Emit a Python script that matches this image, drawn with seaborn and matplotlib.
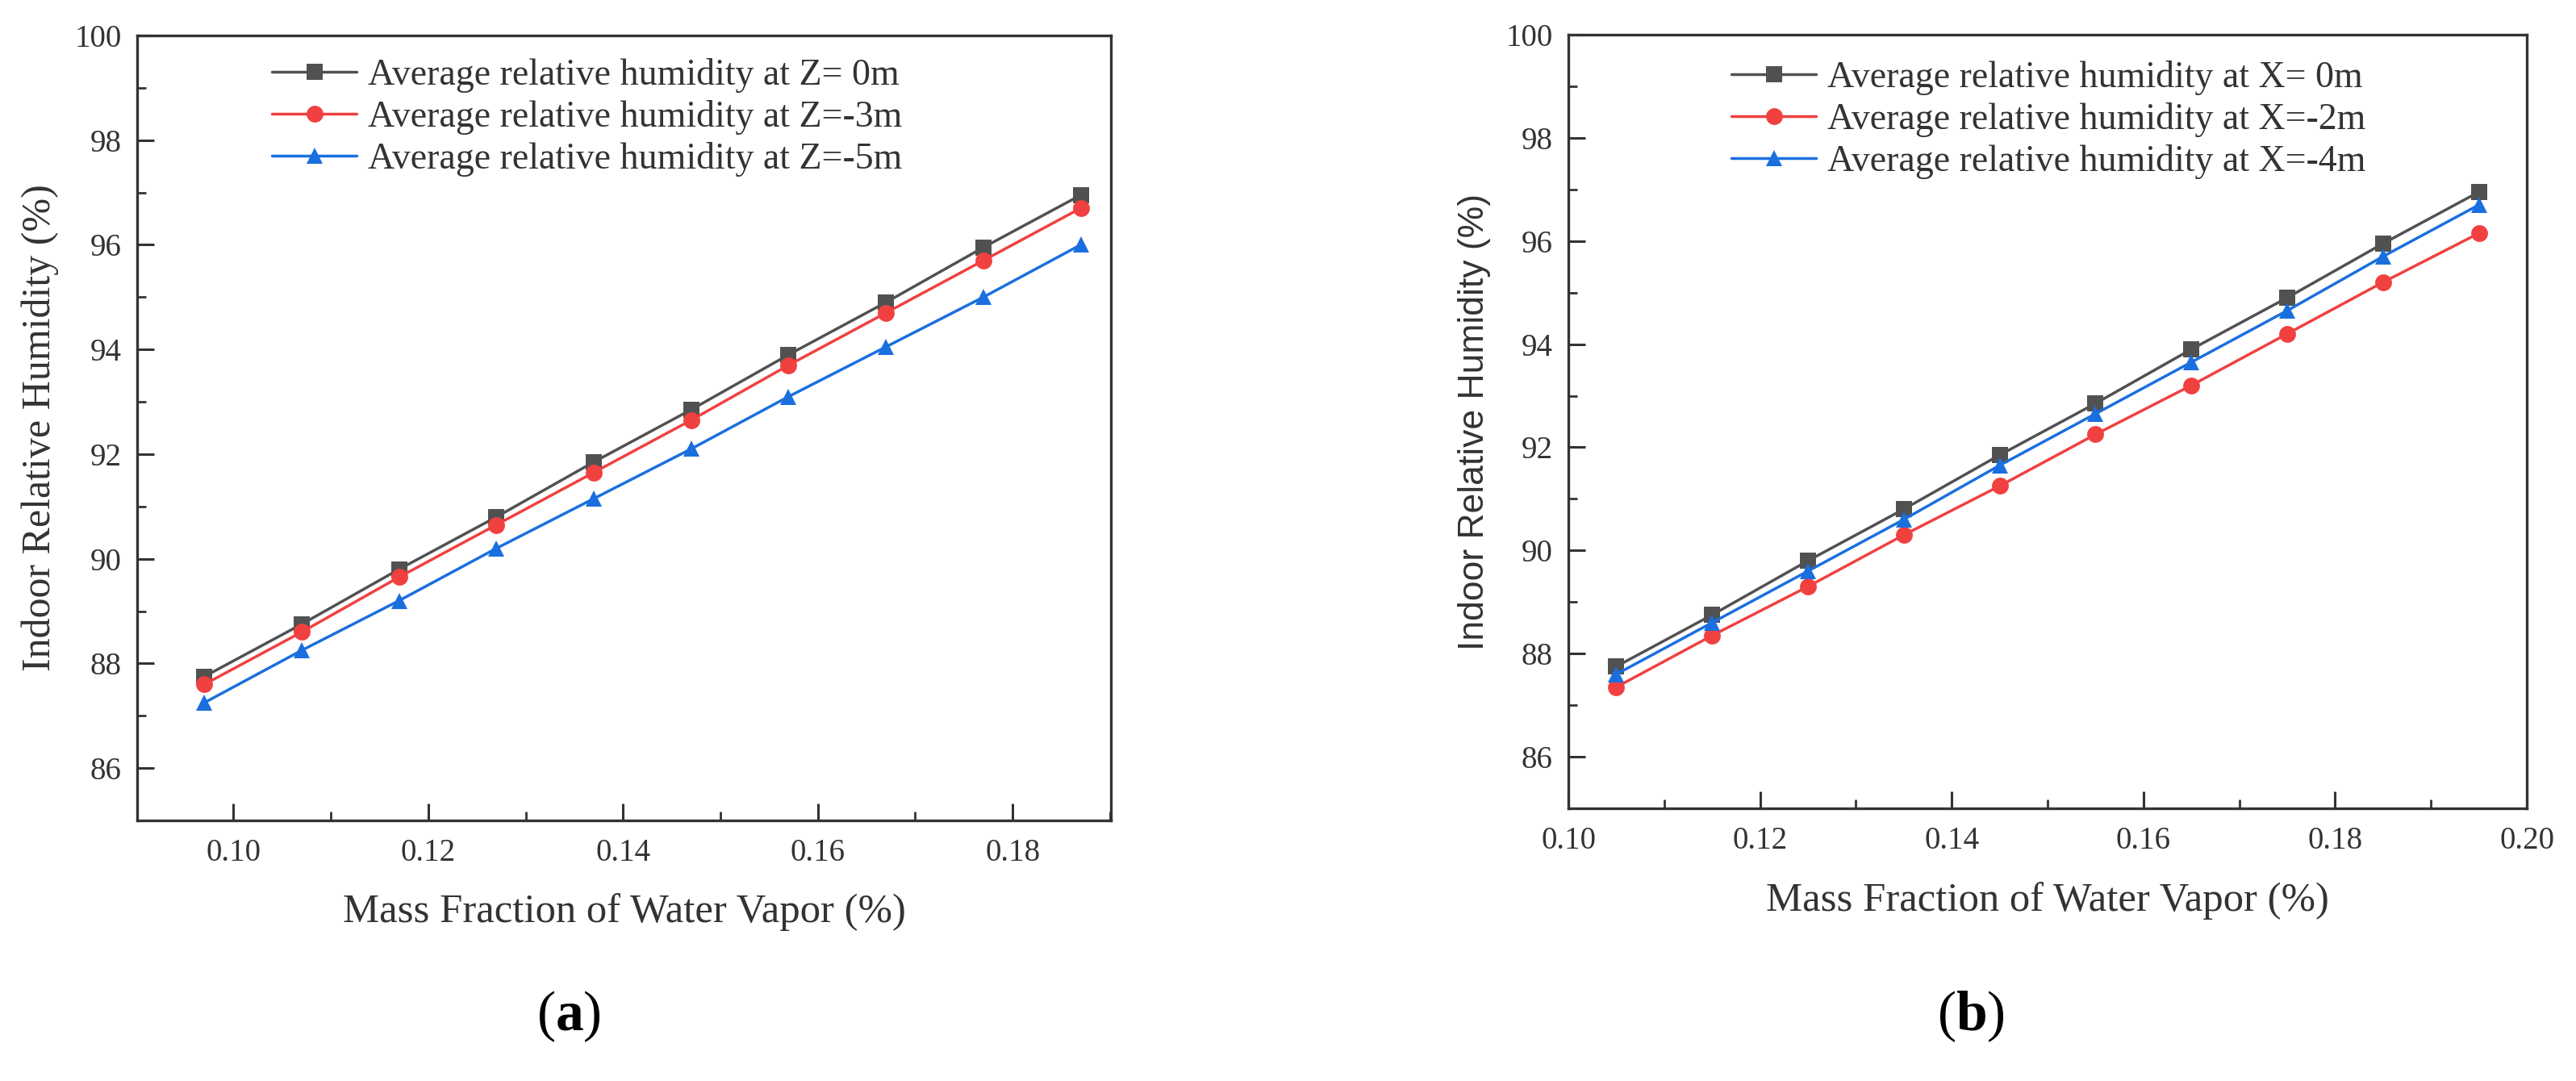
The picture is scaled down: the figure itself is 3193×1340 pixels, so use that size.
import numpy as np
import pandas as pd
import matplotlib
matplotlib.use("Agg")
import matplotlib.pyplot as plt
import seaborn as sns

# ---------------- data ----------------
x_a = [0.097, 0.107, 0.117, 0.127, 0.137, 0.147, 0.157, 0.167, 0.177, 0.187]
z0 = [87.75, 88.75, 89.80, 90.80, 91.85, 92.85, 93.90, 94.90, 95.95, 96.95]
z3 = [87.60, 88.60, 89.65, 90.65, 91.65, 92.65, 93.70, 94.70, 95.70, 96.70]
z5 = [87.25, 88.25, 89.20, 90.20, 91.15, 92.10, 93.10, 94.05, 95.00, 96.00]
labels_a = ["Average relative humidity at Z= 0m",
            "Average relative humidity at Z=-3m",
            "Average relative humidity at Z=-5m"]

x_b = [0.105, 0.115, 0.125, 0.135, 0.145, 0.155, 0.165, 0.175, 0.185, 0.195]
x0 = [87.75, 88.75, 89.80, 90.80, 91.85, 92.85, 93.90, 94.90, 95.95, 96.95]
x2 = [87.35, 88.35, 89.30, 90.30, 91.25, 92.25, 93.20, 94.20, 95.20, 96.15]
x4 = [87.60, 88.60, 89.60, 90.60, 91.65, 92.65, 93.65, 94.65, 95.70, 96.70]
labels_b = ["Average relative humidity at X= 0m",
            "Average relative humidity at X=-2m",
            "Average relative humidity at X=-4m"]

y_ticks = [86, 88, 90, 92, 94, 96, 98, 100]
xt_a = [0.10, 0.12, 0.14, 0.16, 0.18]
xt_b = [0.10, 0.12, 0.14, 0.16, 0.18, 0.20]
xlabel = "Mass Fraction of Water Vapor (%)"
ylabel = "Indoor Relative Humidity (%)"

colors = ["#515151", "#F14040", "#1A6FDF"]
marks = ["s", "o", "^"]

# ---------------- style ----------------
sns.set_theme(style="white")
plt.rcParams["font.family"] = ["Liberation Serif", "DejaVu Serif"]
plt.rcParams["mathtext.fontset"] = "custom"
plt.rcParams["mathtext.rm"] = "Liberation Serif"
plt.rcParams["mathtext.bf"] = "Liberation Serif:bold"

W, H = 3193, 1340
fig = plt.figure(figsize=(W / 100, H / 100), dpi=100)
fig.patch.set_facecolor("white")


def px_axes(l, t, r, b):
    return fig.add_axes([l / W, 1 - b / H, (r - l) / W, (b - t) / H])


def make_df(x, series, labels):
    frames = []
    for s, lab in zip(series, labels):
        frames.append(pd.DataFrame({"x": x, "y": s, "series": lab}))
    return pd.concat(frames, ignore_index=True)


def draw(ax, x, series, labels, xlim, xticks, box, ylab_font, ylab_x,
         xlab_y, leg_x, leg_y):
    l, t, r, b = box
    df = make_df(x, series, labels)
    pal = dict(zip(labels, colors))
    mk = dict(zip(labels, marks))
    sns.lineplot(data=df, x="x", y="y", hue="series", style="series",
                 hue_order=labels, style_order=labels, palette=pal,
                 markers=mk, dashes=False, legend=False, ax=ax,
                 linewidth=2.5, markersize=15, markeredgewidth=0)
    ax.set_xlim(*xlim)
    ax.set_ylim(85, 100)
    ax.set_xticks(xticks)
    ax.set_xticklabels([f"{v:.2f}" for v in xticks])
    ax.set_xticks([v + 0.01 for v in xticks if v + 0.01 < xlim[1]], minor=True)
    ax.set_yticks(y_ticks)
    ax.set_yticklabels([str(v) for v in y_ticks])
    ax.set_yticks([v - 1 for v in y_ticks], minor=True)
    ax.tick_params(axis="both", which="major", direction="in", length=15,
                   width=2.2, color="#333333", labelsize=28,
                   labelcolor="#333333", top=False, right=False,
                   bottom=True, left=True)
    ax.tick_params(axis="y", which="major", pad=14)
    ax.tick_params(axis="x", which="major", pad=16)
    ax.tick_params(axis="both", which="minor", direction="in", length=8,
                   width=2.0, color="#333333", top=False, right=False,
                   bottom=True, left=True)
    for sp in ax.spines.values():
        sp.set_visible(True)
        sp.set_linewidth(2.4)
        sp.set_color("#333333")
    ax.grid(False)
    ax.set_facecolor("white")

    # axis labels
    ax.set_xlabel(xlabel, fontsize=36.5, color="#333333")
    ax.xaxis.set_label_coords(0.5, (b - xlab_y) / (b - t))
    ax.xaxis.label.set_va("center")
    ax.set_ylabel(ylabel, color="#333333", **ylab_font)
    ax.yaxis.set_label_coords((ylab_x - l) / (r - l), 0.5)
    ax.yaxis.label.set_va("center")

    leg = ax.legend(ax.lines[:3], labels, loc="upper left",
                    bbox_to_anchor=((leg_x - l) / (r - l),
                                    1 - (leg_y - t) / (b - t)),
                    frameon=False, fontsize=33, handlelength=2.3,
                    handletextpad=0.3, labelspacing=0.2, borderaxespad=0,
                    borderpad=0)
    for txt in leg.get_texts():
        txt.set_color("#333333")
    return leg


# Panel (a)
box_a = (170, 44, 1377, 1017)
ax_a = px_axes(*box_a)
draw(ax_a, x_a, [z0, z3, z5], labels_a, (0.0901, 0.1901), xt_a, box_a,
     dict(fontsize=36), 50, 1131, 337, 72)

# Panel (b)
box_b = (1944, 43, 3132, 1002)
ax_b = px_axes(*box_b)
draw(ax_b, x_b, [x0, x2, x4], labels_b, (0.10, 0.20), xt_b, box_b,
     dict(fontsize=32, family=["Liberation Sans", "DejaVu Sans"]),
     1827, 1117, 2146, 75)

# panel letters
fig.text(705 / W, 1 - 1260 / H, r"($\mathbf{a}$)", fontsize=50,
         ha="center", va="center", color="black")
fig.text(2443 / W, 1 - 1260 / H, r"($\mathbf{b}$)", fontsize=50,
         ha="center", va="center", color="black")

fig.savefig("out.png", dpi=100, facecolor="white")
